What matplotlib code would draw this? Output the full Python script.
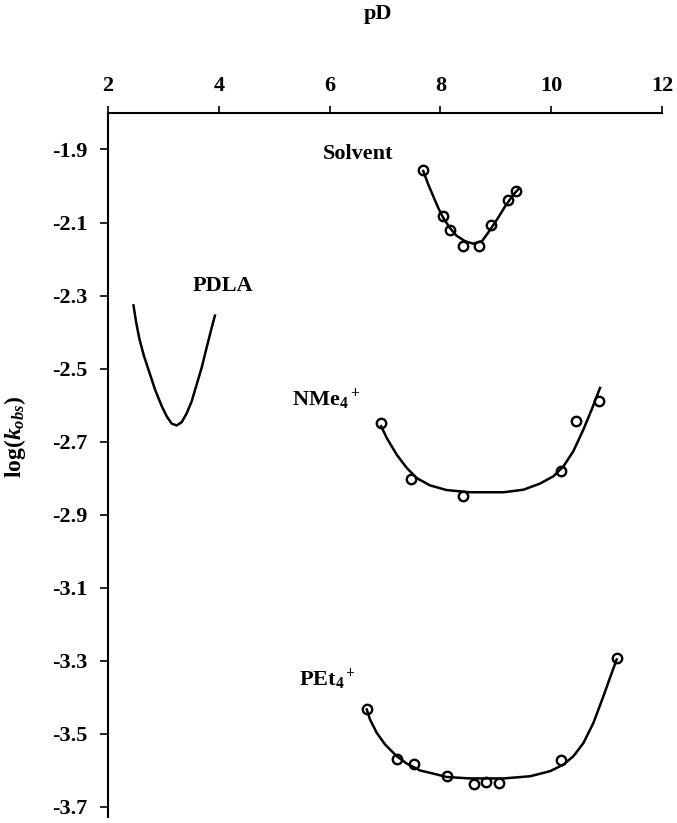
import numpy as np
import matplotlib.pyplot as plt

plt.rcParams['font.family'] = ['Liberation Serif', 'DejaVu Serif']
plt.rcParams['font.weight'] = 'bold'
plt.rcParams['mathtext.fontset'] = 'custom'
plt.rcParams['mathtext.rm'] = 'Liberation Serif:bold'
plt.rcParams['mathtext.it'] = 'Liberation Serif:italic:bold'
plt.rcParams['mathtext.bf'] = 'Liberation Serif:bold'

solv_x = [7.69, 8.04, 8.18, 8.41, 8.70, 8.91, 9.21, 9.36]
solv_y = [-1.957, -2.081, -2.121, -2.165, -2.163, -2.106, -2.037, -2.015]
nme_x = [6.93, 7.46, 8.41, 10.17, 10.45, 10.87]
nme_y = [-2.649, -2.804, -2.850, -2.781, -2.644, -2.588]
pet_x = [6.67, 7.21, 7.53, 8.11, 8.61, 8.83, 9.06, 10.17, 11.18]
pet_y = [-3.432, -3.569, -3.583, -3.615, -3.637, -3.633, -3.635, -3.573, -3.293]

# curvas ajustadas
solv_cx = [7.69, 7.78, 7.87, 7.96, 8.05, 8.17, 8.29, 8.44, 8.59, 8.75, 8.86, 9.02, 9.17, 9.32, 9.41]
solv_cy = [-1.959, -1.996, -2.028, -2.060, -2.087, -2.115, -2.136, -2.151, -2.158, -2.151,
           -2.128, -2.092, -2.055, -2.023, -2.008]
pdla_cx = [2.46, 2.51, 2.57, 2.65, 2.75, 2.85, 2.97, 3.06, 3.15, 3.24, 3.33, 3.42, 3.51,
           3.60, 3.69, 3.78, 3.87, 3.93]
pdla_cy = [-2.327, -2.375, -2.421, -2.466, -2.512, -2.558, -2.603, -2.631, -2.651, -2.656,
           -2.647, -2.623, -2.590, -2.544, -2.498, -2.443, -2.389, -2.355]
nme_cx = [6.93, 7.03, 7.21, 7.39, 7.57, 7.81, 8.11, 8.53, 9.14, 9.50, 9.80, 10.04, 10.22,
          10.40, 10.58, 10.73, 10.88]
nme_cy = [-2.658, -2.690, -2.736, -2.772, -2.800, -2.820, -2.833, -2.839, -2.839, -2.832,
          -2.815, -2.795, -2.768, -2.726, -2.667, -2.612, -2.553]
pet_cx = [6.67, 6.73, 6.85, 7.00, 7.21, 7.39, 7.63, 7.93, 8.11, 8.53, 9.14, 9.62, 9.98,
          10.22, 10.40, 10.58, 10.76, 10.94, 11.06, 11.18]
pet_cy = [-3.434, -3.462, -3.498, -3.530, -3.562, -3.582, -3.601, -3.612, -3.619, -3.623,
          -3.623, -3.617, -3.603, -3.585, -3.562, -3.526, -3.471, -3.398, -3.347, -3.297]

xticks = [2, 4, 6, 8, 10, 12]
yticks = [-1.9, -2.1, -2.3, -2.5, -2.7, -2.9, -3.1, -3.3, -3.5, -3.7]

fig = plt.figure(figsize=(6.77, 8.23), dpi=100)
ax = fig.add_axes([0.1595, 0.0067, 0.8185, 0.856])

for cx, cy in [(solv_cx, solv_cy), (pdla_cx, pdla_cy), (nme_cx, nme_cy), (pet_cx, pet_cy)]:
    ax.plot(cx, cy, color='black', lw=1.8, solid_joinstyle='round')

for px, py in [(solv_x, solv_y), (nme_x, nme_y), (pet_x, pet_y)]:
    ax.plot(px, py, 'o', mfc='none', mec='black', mew=1.7, ms=6.8, ls='none')

fs = 16
ax.text(5.88, -1.911, 'Solvent', fontsize=fs, fontweight='bold', va='center')
ax.text(3.53, -2.273, 'PDLA', fontsize=fs, fontweight='bold', va='center')
ax.text(5.32, -2.585, r'NMe$_4$$^+$', fontsize=fs, fontweight='bold', va='center')
ax.text(5.45, -3.352, r'PEt$_4$$^+$', fontsize=fs, fontweight='bold', va='center')

ax.set_xlim(2, 12)
ax.set_ylim(-3.73, -1.8)
ax.xaxis.tick_top()
ax.set_xticks(xticks)
ax.set_yticks(yticks)
ax.set_yticklabels(['%.1f' % v for v in yticks])
ax.tick_params(axis='x', direction='out', length=5, width=1.2, pad=7, labelsize=fs)
ax.tick_params(axis='y', direction='out', length=6, width=1.2, pad=9, labelsize=fs)
ax.spines['right'].set_visible(False)
ax.spines['bottom'].set_visible(False)
ax.spines['left'].set_linewidth(1.5)
ax.spines['top'].set_linewidth(1.5)

fig.text(378 / 677, 1 - 19 / 823, 'pD', fontsize=fs, fontweight='bold', ha='center', va='baseline')
fig.text(15 / 677, 1 - 437 / 823, r'log($k_{obs}$)', fontsize=17, fontweight='bold',
         rotation=90, ha='center', va='center')

fig.savefig('out.png', dpi=100)
